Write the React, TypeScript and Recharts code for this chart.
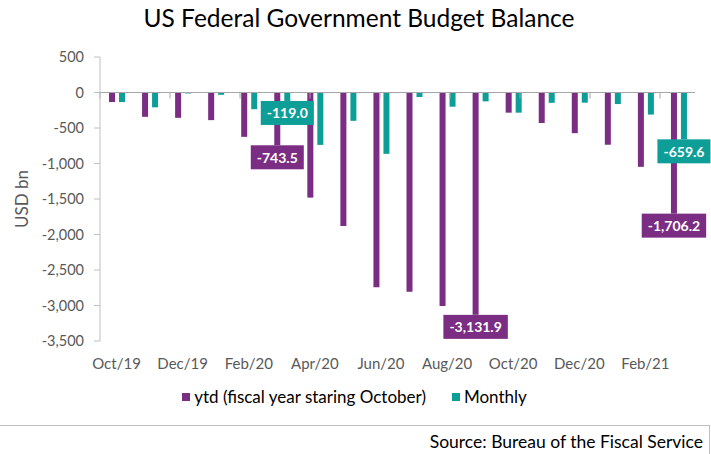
import { BarChart, Bar, XAxis, YAxis, ReferenceLine, LabelList } from 'recharts';

// Oct/19 .. Mar/21, USD bn
const MONTHS = [
  'Oct/19', 'Nov/19', 'Dec/19', 'Jan/20', 'Feb/20', 'Mar/20',
  'Apr/20', 'May/20', 'Jun/20', 'Jul/20', 'Aug/20', 'Sep/20',
  'Oct/20', 'Nov/20', 'Dec/20', 'Jan/21', 'Feb/21', 'Mar/21',
];
const YTD = [
  -134.5, -342.5, -356.6, -389.2, -624.5, -743.5,
  -1480.6, -1879.1, -2743.6, -2806.9, -3007.6, -3131.9,
  -284.1, -429.3, -572.9, -735.7, -1046.9, -1706.2,
];
const MONTHLY = [
  -134.5, -208.8, -13.3, -32.6, -235.3, -119.0,
  -737.9, -398.8, -864.1, -63.0, -200.1, -124.6,
  -284.1, -145.3, -143.6, -162.8, -310.9, -659.6,
];
const Y_TICKS = [500, 0, -500, -1000, -1500, -2000, -2500, -3000, -3500];
// category boundaries that carry a tick mark on the zero axis
const BOUNDARY_TICKS = [0, 2, 4, 6, 8, 10, 12, 14, 16, 18];
const YTD_LABELLED = ['Mar/20', 'Sep/20', 'Mar/21'];
const MONTHLY_LABELLED = ['Mar/20', 'Mar/21'];

const PURPLE = '#7B2C83';
const TEAL = '#0E9E98';
const AXIS_GREY = '#BFBFBF';
const TEXT_GREY = '#595959';
const FONT = 'Lato, "Open Sans", sans-serif';

const data = MONTHS.map((month, i) => ({
  month,
  ytd: YTD[i],
  monthly: MONTHLY[i],
  ytdLabel: YTD_LABELLED.includes(month) ? YTD[i] : null,
  monthlyLabel: MONTHLY_LABELLED.includes(month) ? MONTHLY[i] : null,
}));

const fmt0 = (v: number) => v.toLocaleString('en-US');
const fmt1 = (v: number) =>
  v.toLocaleString('en-US', { minimumFractionDigits: 1, maximumFractionDigits: 1 });

let ctx: CanvasRenderingContext2D | null = null;
function textWidth(s: string, font: string): number {
  if (!ctx) ctx = document.createElement('canvas').getContext('2d');
  if (!ctx) return s.length * 7.5;
  ctx.font = font;
  return ctx.measureText(s).width;
}

function boxLabel(fill: string) {
  return (props: any) => {
    const vb = props.viewBox ?? props;
    const x = props.x ?? vb.x;
    const y = props.y ?? vb.y;
    const width = props.width ?? vb.width;
    const height = props.height ?? vb.height;
    const value = props.value;
    if (value === null || value === undefined || x === undefined) return null;
    const text = fmt1(Number(value));
    const w = textWidth(text, `bold 14px ${FONT}`) + 12;
    const bottom = Math.max(y, y + height);
    const cx = x + width / 2;
    return (
      <g>
        <rect x={cx - w / 2} y={bottom} width={w} height={24} fill={fill} />
        <text
          x={cx}
          y={bottom + 12}
          textAnchor="middle"
          dominantBaseline="central"
          fill="#fff"
          fontSize={14}
          fontWeight={700}
          fontFamily={FONT}
        >
          {text}
        </text>
      </g>
    );
  };
}

function LegendKey({ color, label }: { color: string; label: string }) {
  return (
    <span style={{ display: 'inline-flex', alignItems: 'center', marginRight: 26 }}>
      <span style={{ width: 8, height: 8, background: color, marginRight: 4 }} />
      {label}
    </span>
  );
}

export default function App() {
  return (
    <div
      style={{
        position: 'absolute',
        left: 0,
        top: 0,
        width: 711,
        height: 454,
        background: '#fff',
        fontFamily: FONT,
        overflow: 'hidden',
      }}
    >
      <div
        style={{
          position: 'absolute',
          top: 3,
          left: 0,
          width: 718,
          textAlign: 'center',
          fontSize: 24.5,
          color: '#000',
        }}
      >
        US Federal Government Budget Balance
      </div>

      <BarChart
        width={711}
        height={454}
        data={data}
        margin={{ top: 57, right: 16, bottom: 83, left: 0 }}
        barSize={6}
        barGap={4}
      >
        <XAxis
          dataKey="month"
          interval={1}
          axisLine={false}
          tickLine={false}
          tickSize={6}
          tickMargin={11}
          height={30}
          tick={{ fill: TEXT_GREY, fontSize: 15, fontFamily: FONT }}
        />
        <XAxis xAxisId="bounds" type="number" domain={[0, 18]} hide allowDataOverflow />
        <YAxis
          width={100}
          domain={[-3500, 500]}
          ticks={Y_TICKS}
          interval={0}
          tickFormatter={fmt0}
          axisLine={{ stroke: AXIS_GREY }}
          tickLine={{ stroke: AXIS_GREY }}
          tickSize={6}
          tickMargin={10}
          tick={{ fill: TEXT_GREY, fontSize: 14.5, fontFamily: FONT }}
          label={{
            value: 'USD bn',
            angle: -90,
            position: 'insideLeft',
            offset: 22,
            style: { fill: TEXT_GREY, fontSize: 17, fontFamily: FONT, textAnchor: 'middle' },
          }}
        />
        <ReferenceLine y={0} stroke="#A6A6A6" />
        {BOUNDARY_TICKS.map((t) => (
          <ReferenceLine
            key={t}
            xAxisId="bounds"
            segment={[{ x: t, y: 0 }, { x: t, y: -85 }]}
            stroke="#A6A6A6"
            ifOverflow="visible"
          />
        ))}
        <Bar dataKey="ytd" fill={PURPLE} isAnimationActive={false}>
          <LabelList dataKey="ytdLabel" content={boxLabel(PURPLE)} />
        </Bar>
        <Bar dataKey="monthly" fill={TEAL} isAnimationActive={false}>
          <LabelList dataKey="monthlyLabel" content={boxLabel(TEAL)} />
        </Bar>
      </BarChart>

      <div
        style={{
          position: 'absolute',
          top: 386,
          left: 0,
          width: 711,
          fontSize: 17,
          color: '#000',
          display: 'flex',
          justifyContent: 'center',
          paddingLeft: 24,
          boxSizing: 'border-box',
        }}
      >
        <LegendKey color={PURPLE} label="ytd (fiscal year staring October)" />
        <LegendKey color={TEAL} label="Monthly" />
      </div>

      <div
        style={{
          position: 'absolute',
          top: 425,
          left: 0,
          width: 709,
          height: 40,
          borderTop: `1px solid ${AXIS_GREY}`,
          borderRight: `1px solid ${AXIS_GREY}`,
        }}
      />
      <div
        style={{
          position: 'absolute',
          top: 431,
          right: 8,
          fontSize: 17.5,
          color: '#000',
        }}
      >
        Source: Bureau of the Fiscal Service
      </div>
    </div>
  );
}
